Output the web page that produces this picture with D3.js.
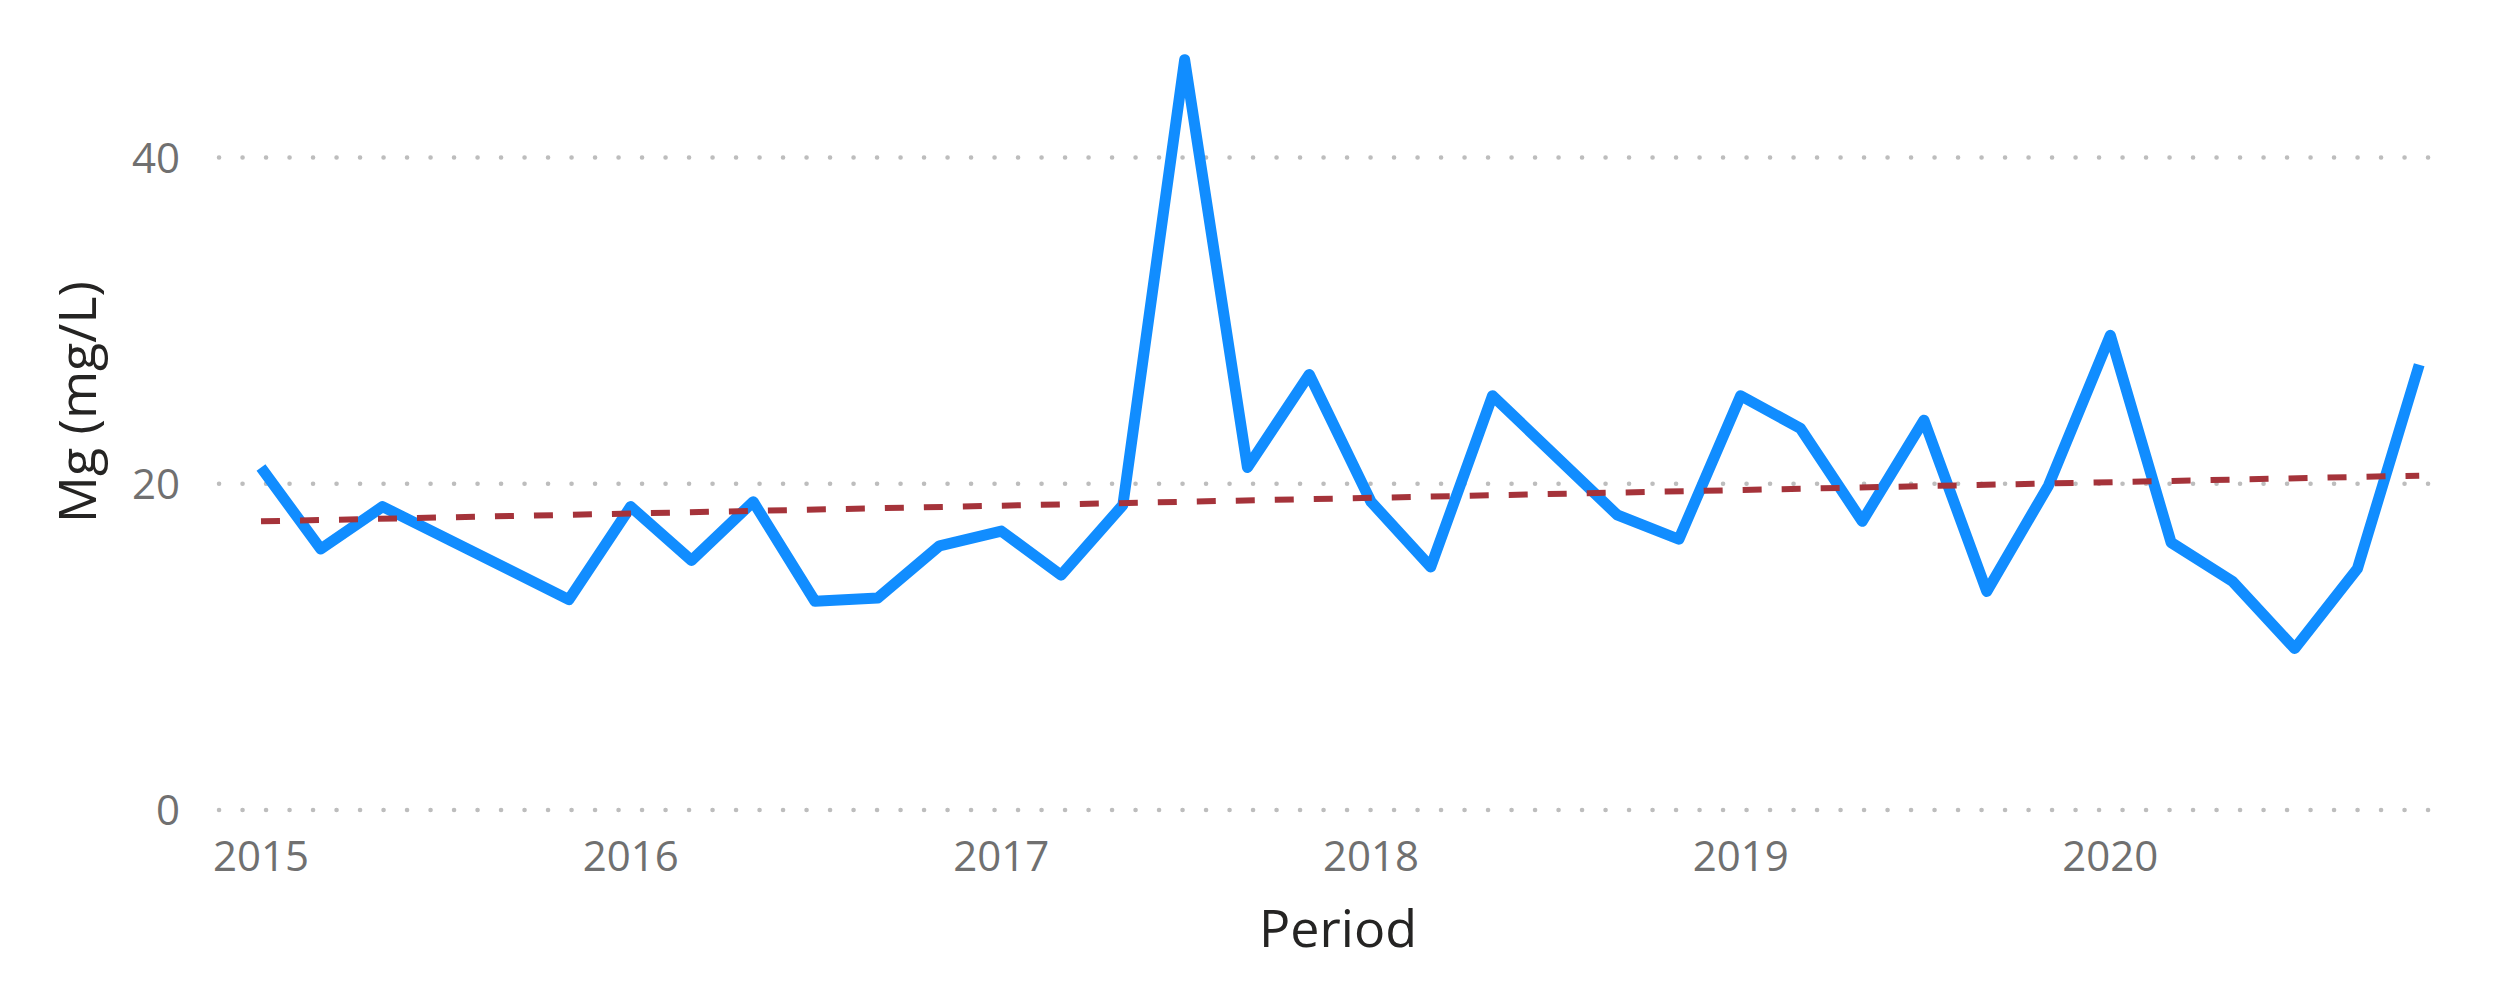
<!DOCTYPE html>
<html>
<head>
<meta charset="utf-8">
<script src="https://cdn.jsdelivr.net/npm/d3@7"></script>
<style>
    body { margin: 0; background: #fff; }
</style>
</head>
<body>
<div id="chart"></div>
<script>
// Mg readings every two months (null = no sample that period)
var years = [2015, 2016, 2017, 2018, 2019, 2020];
var months = [1, 3, 5, 7, 9, 11];
var mgValues = [
    21.0, 16.0, 18.6, null, null, 12.9,
    18.6, 15.3, 18.9, 12.8, 13.0, 16.2,
    17.1, 14.4, 18.7, 46.0, 21.0, 26.7,
    18.9, 14.9, 25.4, null, 18.1, 16.6,
    25.4, 23.4, 17.7, 23.9, 13.4, 19.9,
    29.1, 16.4, 14.0, 9.9, 14.8, 27.3
];
// trend line end points
var trendValues = [17.7, 20.5];
var yTicks = [0, 20, 40];
var xTickLabels = ['2015', '2016', '2017', '2018', '2019', '2020'];

var width = 2502, height = 996;

var svg = d3.select('#chart')
    .append('svg')
    .attr('width', width)
    .attr('height', height);

// build rows
var data = [];
for (var i = 0; i < years.length; i++) {
    for (var j = 0; j < months.length; j++) {
        data.push({
            date: new Date(years[i], months[j] - 1, 1),
            value: mgValues[i * months.length + j]
        });
    }
}
var present = data.filter(function(d) { return d.value !== null; });

var xScale = d3.scaleTime()
    .domain([new Date(2015, 0, 1), new Date(2021, 0, 1)])
    .range([261, 261 + 370 * 6]);

var yScale = d3.scaleLinear()
    .domain([0, 40])
    .range([810, 157.6]);

var gridLeft = 219, gridRight = 2447;

// dotted gridlines
svg.append('g')
    .selectAll('line')
    .data(yTicks)
    .enter().append('line')
    .attr('x1', gridLeft)
    .attr('x2', gridRight)
    .attr('y1', function(d) { return yScale(d); })
    .attr('y2', function(d) { return yScale(d); })
    .attr('stroke', '#bdbdbd')
    .attr('stroke-width', 4.5)
    .attr('stroke-linecap', 'round')
    .attr('stroke-dasharray', '0.1,23.4');

// Y-Axis labels
svg.append('g')
    .selectAll('text')
    .data(yTicks)
    .enter().append('text')
    .attr('x', 180)
    .attr('y', function(d) { return yScale(d); })
    .attr('dy', '0.36em')
    .attr('text-anchor', 'end')
    .attr('font-family', 'Open Sans, sans-serif')
    .attr('font-size', 42)
    .attr('fill', '#707070')
    .text(function(d) { return d; });

// X-Axis labels
svg.append('g')
    .selectAll('text')
    .data(xTickLabels)
    .enter().append('text')
    .attr('x', function(d) { return xScale(new Date(+d, 0, 1)); })
    .attr('y', 871)
    .attr('text-anchor', 'middle')
    .attr('font-family', 'Open Sans, sans-serif')
    .attr('font-size', 42)
    .attr('fill', '#707070')
    .text(function(d) { return d; });

// axis titles
svg.append('text')
    .attr('x', 1338)
    .attr('y', 947)
    .attr('text-anchor', 'middle')
    .attr('font-family', 'Open Sans, sans-serif')
    .attr('font-size', 52)
    .attr('font-weight', 500)
    .attr('fill', '#252423')
    .text('Period');

svg.append('text')
    .attr('transform', 'translate(96,402) rotate(-90)')
    .attr('text-anchor', 'middle')
    .attr('font-family', 'Open Sans, sans-serif')
    .attr('font-size', 52)
    .attr('font-weight', 500)
    .attr('fill', '#252423')
    .text('Mg (mg/L)');

// trend line
var trendData = [
    { date: present[0].date, value: trendValues[0] },
    { date: present[present.length - 1].date, value: trendValues[1] }
];

var line = d3.line()
    .x(function(d) { return xScale(d.date); })
    .y(function(d) { return yScale(d.value); });

// Mg line
svg.append('path')
    .datum(present)
    .attr('d', line)
    .attr('fill', 'none')
    .attr('stroke', '#118DFF')
    .attr('stroke-width', 11)
    .attr('stroke-linejoin', 'round')
    .attr('stroke-linecap', 'butt');

svg.append('path')
    .datum(trendData)
    .attr('d', line)
    .attr('fill', 'none')
    .attr('stroke', '#A5333A')
    .attr('stroke-width', 6)
    .attr('stroke-dasharray', '19,20');
</script>
</body>
</html>
